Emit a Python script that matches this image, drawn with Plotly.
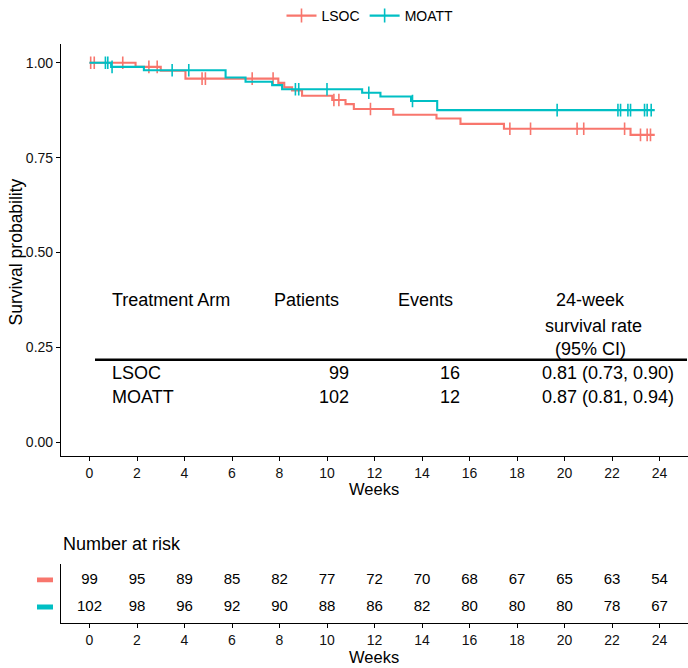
import plotly.graph_objects as go

W, H = 688, 668
RED = "#F8766D"
TEAL = "#00BFC4"
FONT = "Liberation Sans"

# ---- data ----
lsoc_t = [0, 1.94, 3.0, 4.04, 7.95, 8.2, 8.53, 8.95, 10.22, 10.78, 11.13, 12.79, 14.61, 15.62, 17.45, 22.78, 23.8]
lsoc_s = [1.0, 0.989, 0.979, 0.958, 0.947, 0.935, 0.927, 0.913, 0.902, 0.891, 0.878, 0.863, 0.853, 0.839, 0.826, 0.81, 0.81]
lsoc_cens = [0.05, 0.2, 1.4, 2.5, 2.85, 4.74, 4.88, 6.85, 7.73, 10.29, 10.5, 11.83, 17.7, 18.57, 20.53, 20.81, 22.53, 23.2, 23.48, 23.62]

moatt_t = [0, 0.91, 2.29, 5.73, 6.57, 7.69, 8.11, 11.48, 12.25, 13.54, 14.64, 23.8]
moatt_s = [1.0, 0.989, 0.98, 0.961, 0.95, 0.941, 0.93, 0.921, 0.911, 0.899, 0.875, 0.875]
moatt_cens = [0.67, 0.77, 0.95, 3.48, 4.18, 8.67, 8.81, 10.0, 11.76, 13.6, 19.69, 22.25, 22.36, 22.67, 22.78, 23.37, 23.48, 23.65]

risk_times = [0, 2, 4, 6, 8, 10, 12, 14, 16, 18, 20, 22, 24]
lsoc_risk = [99, 95, 89, 85, 82, 77, 72, 70, 68, 67, 65, 63, 54]
moatt_risk = [102, 98, 96, 92, 90, 88, 86, 82, 80, 80, 80, 78, 67]

arms = ["LSOC", "MOATT"]
patients = [99, 102]
events = [16, 12]
rates = ["0.81 (0.73, 0.90)", "0.87 (0.81, 0.94)"]

x_ticks = list(range(0, 25, 2))
y_ticks = [0, 0.25, 0.5, 0.75, 1.0]
y_ticktext = ["0.00", "0.25", "0.50", "0.75", "1.00"]


def surv_at(ts, ss, t):
    v = ss[0]
    for ti, si in zip(ts, ss):
        if ti <= t:
            v = si
    return v


def px(x):
    return x / W


def py(y):
    return 1 - y / H


fig = go.Figure()

for name, ts, ss, cens, col in [("LSOC", lsoc_t, lsoc_s, lsoc_cens, RED),
                                ("MOATT", moatt_t, moatt_s, moatt_cens, TEAL)]:
    fig.add_trace(go.Scatter(x=ts, y=ss, mode="lines", line=dict(color=col, width=2.1, shape="hv"),
                             showlegend=False, legendgroup=name, xaxis="x", yaxis="y"))
    fig.add_trace(go.Scatter(x=cens, y=[surv_at(ts, ss, c) for c in cens], mode="markers",
                             marker=dict(symbol="line-ns", size=9, line=dict(color=col, width=1.6)),
                             showlegend=False, legendgroup=name, xaxis="x", yaxis="y"))
    fig.add_trace(go.Scatter(x=[None], y=[None], mode="lines+markers", name=name,
                             line=dict(color=col, width=2.1),
                             marker=dict(symbol="line-ns", size=10, line=dict(color=col, width=1.6)),
                             legendgroup=name, xaxis="x", yaxis="y"))

# risk table numbers
for vals, lvl in [(lsoc_risk, 2), (moatt_risk, 1)]:
    fig.add_trace(go.Scatter(x=risk_times, y=[lvl] * len(risk_times), mode="text",
                             text=[str(v) for v in vals], textfont=dict(size=15, color="black", family=FONT),
                             showlegend=False, xaxis="x2", yaxis="y2"))

axis_common = dict(showgrid=False, zeroline=False, showline=True, linecolor="black", linewidth=1.2,
                   ticks="outside", ticklen=4, tickcolor="black",
                   tickfont=dict(size=14, color="#111111", family=FONT))

fig.update_layout(
    width=W, height=H, margin=dict(l=0, r=0, t=0, b=0),
    plot_bgcolor="white", paper_bgcolor="white",
    font=dict(family=FONT, color="black"),
    xaxis=dict(domain=[px(61), 1], range=[-1.2, 25.2], tickvals=x_ticks, anchor="y", **axis_common),
    yaxis=dict(domain=[py(455), py(40)], range=[-0.037, 1.05], tickvals=y_ticks, ticktext=y_ticktext,
               anchor="x", **axis_common),
    xaxis2=dict(domain=[px(61), 1], range=[-1.2, 25.2], tickvals=x_ticks, anchor="y2", **axis_common),
    yaxis2=dict(domain=[py(623), py(563)], range=[0.4, 2.6], showgrid=False, zeroline=False, showline=True,
                linecolor="black", linewidth=1.2, showticklabels=False, ticks="", anchor="x2"),
    legend=dict(orientation="h", x=px(370), xanchor="center", y=py(12), yanchor="middle",
                font=dict(size=14, family=FONT, color="black"), itemwidth=30, tracegroupgap=0),
)

ann = []
def add_text(text, x, y, size=18, xanchor="left", angle=0):
    ann.append(dict(text=text, x=px(x), y=py(y), xref="paper", yref="paper", showarrow=False,
                    xanchor=xanchor, yanchor="middle", textangle=angle,
                    font=dict(size=size, family=FONT, color="black")))

add_text("Survival probability", 16, 250, size=17.5, xanchor="center", angle=-90)
add_text("Weeks", 374, 488, size=16.5, xanchor="center")
add_text("Weeks", 374, 657, size=16.5, xanchor="center")
add_text("Number at risk", 61, 543, size=18)

# summary table
add_text("Treatment Arm", 110, 298)
add_text("Patients", 272, 298)
add_text("Events", 455, 298, xanchor="right")
add_text("24-week", 590, 298, xanchor="center")
add_text("survival rate", 593, 324, xanchor="center")
add_text("(95% CI)", 590, 347, xanchor="center")
row_y = [371, 395]
for i in range(len(arms)):
    add_text(arms[i], 110, row_y[i])
    add_text(str(patients[i]), 351, row_y[i], xanchor="right")
    add_text(str(events[i]), 462, row_y[i], xanchor="right")
    add_text(rates[i], 676, row_y[i], xanchor="right")

fig.update_layout(annotations=ann)

shapes = [
    dict(type="line", xref="paper", yref="paper", x0=px(95), x1=px(687), y0=py(358), y1=py(358),
         line=dict(color="black", width=2.5)),
    dict(type="rect", xref="paper", yref="y2", x0=px(37), x1=px(53), y0=1.91, y1=2.09,
         fillcolor=RED, line=dict(width=0)),
    dict(type="rect", xref="paper", yref="y2", x0=px(37), x1=px(53), y0=0.91, y1=1.09,
         fillcolor=TEAL, line=dict(width=0)),
]
fig.update_layout(shapes=shapes)

fig.write_html("out.html")
